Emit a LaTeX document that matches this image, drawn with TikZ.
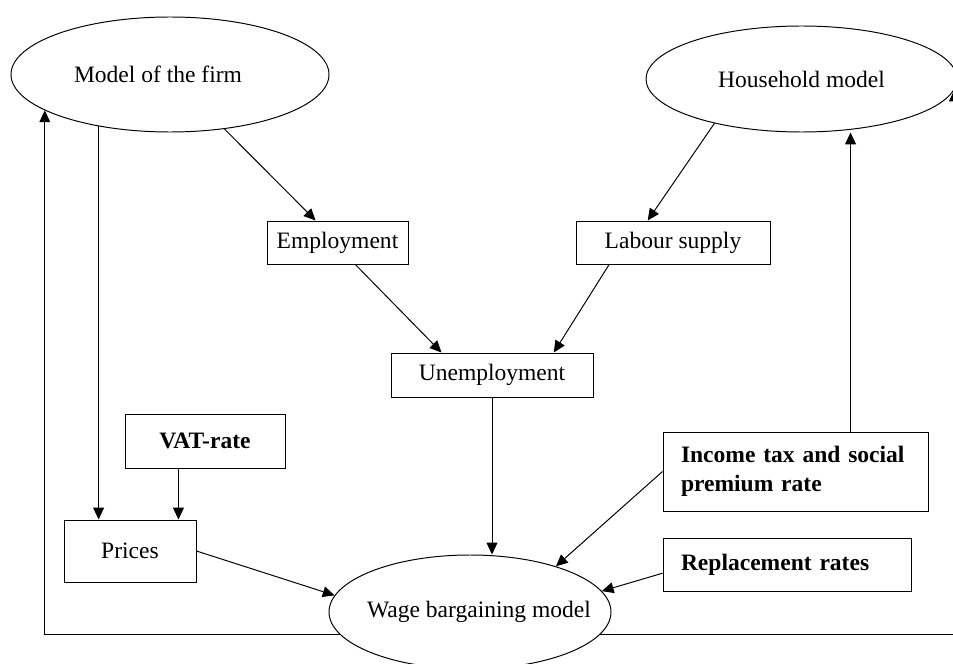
\documentclass[tikz,border=0pt]{standalone}
\usepackage{fontspec}
\setmainfont{Liberation Serif}
\usetikzlibrary{arrows.meta}
\usetikzlibrary{shapes.geometric}
\newdimen\px
\px=0.51pt
\tikzset{
  box/.style={draw, rectangle, inner sep=0pt, font=\fontsize{12}{14.5}\selectfont},
  oval/.style 2 args={draw, ellipse, inner sep=0pt,
    label={[font=\fontsize{12}{14.5}\selectfont, xshift=#1]center:#2}},
  arr/.style={-{Triangle[length=6pt,width=5.5pt]}}
}

\begin{document}
\begin{tikzpicture}[x=0.51pt, y=-0.51pt, line width=0.5pt]
    \useasboundingbox (0,0) rectangle (953,664);
    % models (text put in as centre label, so the oval keeps its size)
    \node[oval={-12\px}{Model of the firm}, minimum width=318\px, minimum height=115\px] (firm) at (170,74.5) {};
    \node[oval={0pt}{Household model}, minimum width=311\px, minimum height=106\px] (hh) at (801.5,79) {};
    \node[oval={9\px}{Wage bargaining model}, minimum width=282\px, minimum height=114\px] (wage) at (470,612) {};
    % boxes
    \node[box, minimum width=141\px, minimum height=43\px] (emp) at (337.5,242.5) {Employment};
    \node[box, minimum width=194\px, minimum height=43\px] (lab) at (673,242.5) {Labour supply};
    \node[box, minimum width=202\px, minimum height=44\px] (unemp) at (492,375) {Unemployment};
    \node[box, minimum width=160\px, minimum height=54\px] (vat) at (205,441) {\textbf{VAT-rate}};
    \node[box, minimum width=132\px, minimum height=62\px] (prices) at (130,551) {Prices};
    \node[box, align=left, text width=229\px, inner xsep=18\px, minimum height=79\px] (inc) at (795.5,471.5)
      {\textbf{Income tax and social}\\\textbf{premium rate}};
    \node[box, align=left, text width=212\px, inner xsep=18\px, minimum height=53\px] (rep) at (787,564.5)
      {\textbf{Replacement rates}};
    % arrows
    \draw[arr] (firm.216) -- (firm.216 |- prices.north);
    \draw[arr] (firm.-45) -- (emp);
    \draw[arr] (hh.207) -- (lab.139);
    \draw[arr] (emp.-51) -- (unemp.156);
    \draw[arr] (lab.199) -- (unemp.20);
    \draw[arr] (unemp.south) -- (unemp.south |- wage.north);
    \draw[arr] (vat.226) -- (vat.226 |- prices.north);
    \draw[arr] (prices.east) -- (wage.173);
    \draw[arr] (inc.west) -- (wage.28);
    \draw[arr] (rep.184) -- (wage.9);
    \draw[arr] (inc.36) -- (inc.36 |- hh.south);
    % feedback loops
    \draw[arr] (wage.190) -| (firm.196);
    \draw[arr] (wage.-10) -| (hh.-4.5);
\end{tikzpicture}
\end{document}
